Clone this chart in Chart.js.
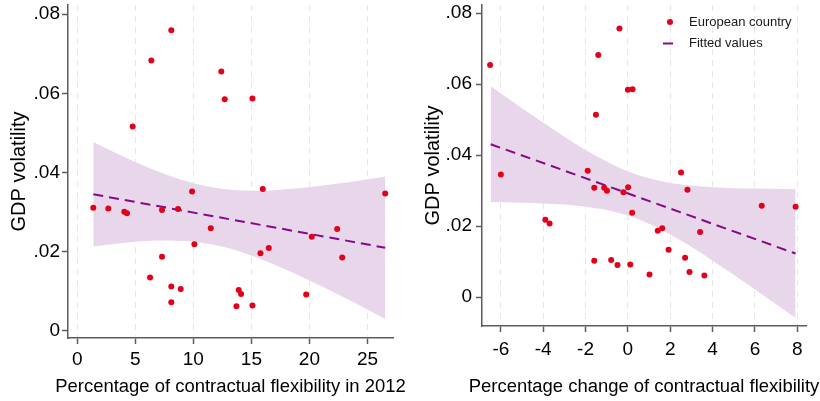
<!DOCTYPE html>
<html><head><meta charset="utf-8">
<script src="https://cdn.jsdelivr.net/npm/chart.js@4.4.0/dist/chart.umd.min.js"></script>
<style>
html,body{margin:0;padding:0;background:#fff;}
#wrap{position:relative;width:820px;height:401px;background:#fff;}
#c1{position:absolute;left:0;top:0;}
#c2{position:absolute;left:410px;top:0;}
</style></head><body>
<div id="wrap"><canvas id="c1" width="410" height="401"></canvas><canvas id="c2" width="410" height="401"></canvas></div>
<script>
// ---- Left panel data ----
const leftFlex = [8.1, 6.38, 12.41, 12.7, 15.09, 4.77, 1.38, 2.67, 4.05, 4.28, 7.3, 8.68, 9.89, 11.5, 10.09, 15.98, 26.53, 20.2, 22.39, 22.82, 15.78, 16.5, 7.3, 6.27, 8.1, 8.91, 8.1, 13.91, 14.11, 13.71, 15.09, 19.72];
const leftVol  = [0.0759, 0.0683, 0.0655, 0.0585, 0.0587, 0.0516, 0.0311, 0.0309, 0.0301, 0.0297, 0.0305, 0.0308, 0.0352, 0.0259, 0.0219, 0.0358, 0.0347, 0.0238, 0.0257, 0.0185, 0.0196, 0.0209, 0.0187, 0.0135, 0.0112, 0.0106, 0.0072, 0.0103, 0.0093, 0.0062, 0.0064, 0.0092];
const leftFitX = [1.38, 26.53];
const leftFitY = [0.0345, 0.0210];
const leftBandX     = [1.38, 4, 7, 10, 13, 16, 19, 22, 25, 26.53];
const leftBandUpper = [0.0477, 0.0440, 0.0402, 0.0373, 0.0357, 0.0354, 0.0360, 0.0370, 0.0383, 0.0390];
const leftBandLower = [0.0213, 0.0222, 0.0228, 0.0225, 0.0209, 0.0179, 0.0141, 0.0099, 0.0054, 0.0030];
const leftXTicks = [0, 5, 10, 15, 20, 25];

// ---- Right panel data ----
const rightChange = [-6.51, -0.40, -1.40, 0.0, 0.22, -1.51, -6.0, -1.90, 2.51, -1.59, -1.12, -0.99, -0.21, 0.01, 2.81, 0.20, 6.32, 7.92, -3.90, -3.70, 1.41, 1.62, 3.41, 1.92, -1.59, -0.79, -0.49, 0.11, 2.70, 2.91, 1.02, 3.61];
const rightVol    = [0.0654, 0.0757, 0.0682, 0.0584, 0.0586, 0.0514, 0.0346, 0.0356, 0.0351, 0.0308, 0.0308, 0.0300, 0.0296, 0.0310, 0.0303, 0.0238, 0.0258, 0.0255, 0.0218, 0.0208, 0.0187, 0.0194, 0.0184, 0.0134, 0.0103, 0.0105, 0.0091, 0.0092, 0.0111, 0.0071, 0.0064, 0.0061];
const rightFitX = [-6.48, 7.92];
const rightFitY = [0.0431, 0.0123];
const rightBandX     = [-6.48, -5, -4, -3, -2, -1, 0, 1, 2, 3, 4, 5, 6, 7.92];
const rightBandUpper = [0.0594, 0.0532, 0.0492, 0.0452, 0.0415, 0.0382, 0.0354, 0.0335, 0.0322, 0.0315, 0.0310, 0.0307, 0.0306, 0.0304];
const rightBandLower = [0.0268, 0.0266, 0.0264, 0.0261, 0.0255, 0.0246, 0.0230, 0.0207, 0.0177, 0.0142, 0.0103, 0.0063, 0.0022, -0.0058];
const rightXTicks = [-6, -4, -2, 0, 2, 4, 6, 8];

// ---- shared ----
const yTickValues = [0, 0.02, 0.04, 0.06, 0.08];
const yTickLabels = ['0', '.02', '.04', '.06', '.08'];
const yTitle = 'GDP volatility';
const leftXTitle = 'Percentage of contractual flexibility in 2012';
const rightXTitle = 'Percentage change of contractual flexibility';
const legendLabels = ['European country', 'Fitted values'];

const RED = '#e3001b', PURPLE = '#850a85', BAND = 'rgba(232,214,234,1)', AXIS = '#5c5c5c', TXT = '#000000';
const FONT = "'Liberation Sans', Arial, sans-serif";
Chart.defaults.font.family = FONT;
Chart.defaults.color = TXT;

const pts = (xs, ys) => xs.map((x, i) => ({x: x, y: ys[i]}));

function makeChart(canvas, cfg) {
  const extrasPlugin = {
    id: 'extras',
    afterDraw(chart) {
      const ctx = chart.ctx;
      const area = chart.chartArea;
      ctx.save();
      // x-axis title (drawn without width squeezing)
      ctx.fillStyle = TXT; ctx.font = '18.45px ' + FONT; ctx.textBaseline = 'middle'; ctx.textAlign = 'center';
      ctx.fillText(cfg.xTitle, (area.left + area.right) / 2, 387);
      if (cfg.legend) {
        ctx.fillStyle = RED;
        ctx.beginPath(); ctx.arc(260, 22, 3, 0, Math.PI * 2); ctx.fill();
        ctx.strokeStyle = PURPLE; ctx.lineWidth = 2;
        ctx.beginPath(); ctx.moveTo(253, 43.5); ctx.lineTo(263, 43.5); ctx.stroke();
        ctx.fillStyle = '#1a1a1a'; ctx.font = '13px ' + FONT; ctx.textAlign = 'left';
        ctx.fillText(legendLabels[0], 279, 22);
        ctx.fillText(legendLabels[1], 279, 43.5);
      }
      ctx.restore();
    }
  };
  return new Chart(canvas, {
    type: 'scatter',
    data: {
      datasets: [
        { type: 'line', data: pts(cfg.bandX, cfg.bandU), borderWidth: 0, pointRadius: 0, backgroundColor: BAND, borderColor: 'rgba(0,0,0,0)', fill: '+1', cubicInterpolationMode: 'monotone', order: 4 },
        { type: 'line', data: pts(cfg.bandX, cfg.bandL), borderWidth: 0, pointRadius: 0, backgroundColor: BAND, borderColor: 'rgba(0,0,0,0)', fill: false, cubicInterpolationMode: 'monotone', order: 3 },
        { type: 'line', data: pts(cfg.fitX, cfg.fitY), borderColor: PURPLE, borderWidth: 2, borderDash: [10, 6], pointRadius: 0, fill: false, order: 1 },
        { type: 'scatter', data: pts(cfg.px, cfg.py), backgroundColor: RED, borderWidth: 0, pointRadius: 3, order: 0 }
      ]
    },
    options: {
      responsive: false, animation: false, devicePixelRatio: 1,
      layout: { padding: { left: 0, right: cfg.padRight, top: 5, bottom: 0 } },
      plugins: { legend: { display: false }, tooltip: { enabled: false } },
      scales: {
        x: {
          type: 'linear', min: cfg.xMin, max: cfg.xMax,
          afterBuildTicks: s => { s.ticks = cfg.xTicks.map(v => ({value: v})); },
          afterFit: s => { s.height = cfg.xAxisH; },
          ticks: { font: { size: 19 }, color: TXT, padding: cfg.xTickPad, maxRotation: 0, callback: v => String(v) },
          grid: { color: '#e6e6e6', lineWidth: 1, drawTicks: true, tickLength: 6, tickColor: AXIS, tickWidth: 1.5 },
          border: { display: true, color: AXIS, width: 1.5, dash: [6, 5] },
          title: { display: false, text: cfg.xTitle }
        },
        y: {
          type: 'linear', min: cfg.yMin, max: 0.0823,
          afterBuildTicks: s => { s.ticks = yTickValues.map(v => ({value: v})); },
          afterFit: s => { s.width = cfg.yAxisW; s.paddingTop = 0; s.paddingBottom = 0; },
          ticks: { font: { size: 19 }, color: TXT, padding: cfg.yTickPad, callback: v => yTickLabels[yTickValues.findIndex(t => Math.abs(t - v) < 1e-9)] },
          grid: { drawOnChartArea: false, drawTicks: true, tickLength: 6, tickColor: AXIS, tickWidth: 1.5 },
          border: { display: true, color: AXIS, width: 1.5 },
          title: { display: true, text: yTitle, font: { size: 20, lineHeight: 1.2 }, color: TXT, padding: { top: cfg.yTitlePad, bottom: 0 } }
        }
      }
    },
    plugins: [extrasPlugin]
  });
}

makeChart(document.getElementById('c1'), {
  bandX: leftBandX, bandU: leftBandUpper, bandL: leftBandLower, fitX: leftFitX, fitY: leftFitY,
  px: leftFlex, py: leftVol, xTicks: leftXTicks, xTitle: leftXTitle,
  xMin: -0.8, xMax: 27.2, yMin: -0.0018, padRight: 17, xAxisH: 63, yAxisW: 68,
  xTickPad: 4, yTickPad: 2, yTitlePad: 7.2, legend: false
});
makeChart(document.getElementById('c2'), {
  bandX: rightBandX, bandU: rightBandUpper, bandL: rightBandLower, fitX: rightFitX, fitY: rightFitY,
  px: rightChange, py: rightVol, xTicks: rightXTicks, xTitle: rightXTitle,
  xMin: -6.89, xMax: 8.41, yMin: -0.0081, padRight: 14, xAxisH: 75, yAxisW: 72,
  xTickPad: 6, yTickPad: 4, yTitlePad: 11, legend: true
});
</script>
</body></html>
